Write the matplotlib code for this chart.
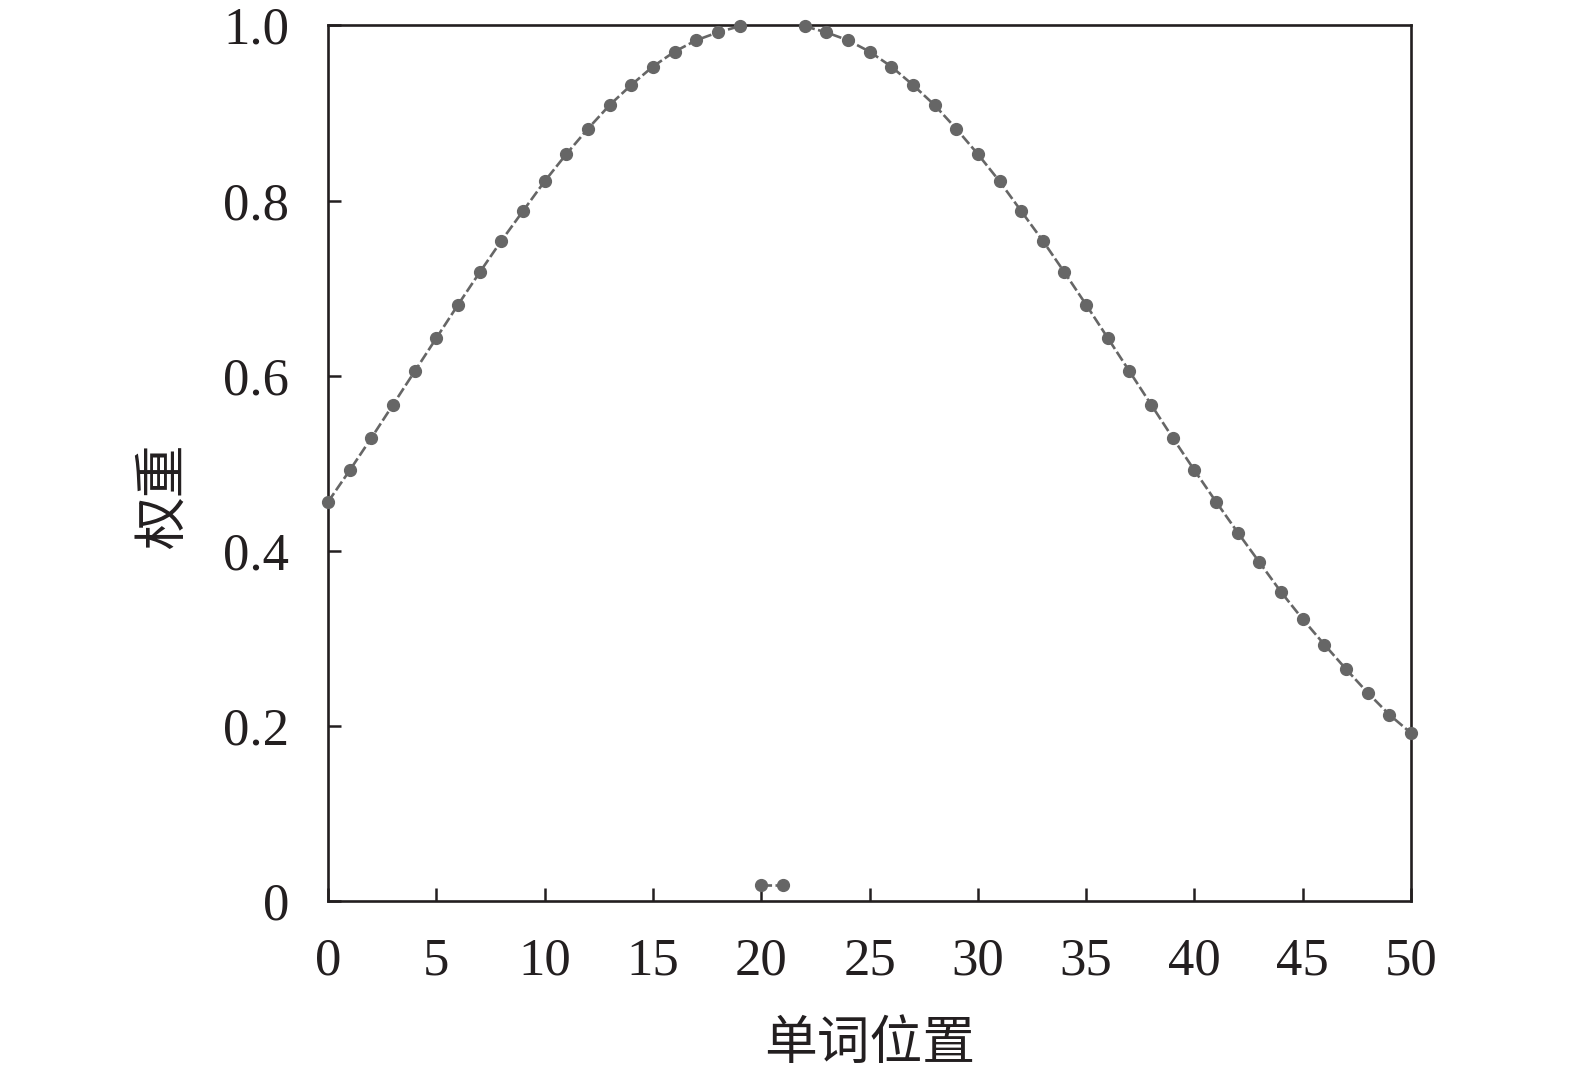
import matplotlib
matplotlib.use('Agg')
import matplotlib.pyplot as plt
import numpy as np

# word positions and weights
positions = list(range(0, 51))
weights = [0.456, 0.492, 0.529, 0.567, 0.605, 0.643, 0.681, 0.718, 0.754, 0.788,
           0.822, 0.853, 0.882, 0.909, 0.932, 0.953, 0.970, 0.983, 0.992, 0.999,
           0.019, 0.019,
           0.999, 0.992, 0.983, 0.970, 0.953, 0.932, 0.909, 0.882, 0.853, 0.822,
           0.788, 0.754, 0.718, 0.681, 0.643, 0.605, 0.567, 0.529, 0.492, 0.456,
           0.421, 0.387, 0.353, 0.322, 0.293, 0.265, 0.238, 0.213, 0.192]
# the curve is drawn in three separate pieces
segments = [(0, 20), (20, 22), (22, 51)]

xticks = [0, 5, 10, 15, 20, 25, 30, 35, 40, 45, 50]
yticks = [0, 0.2, 0.4, 0.6, 0.8, 1.0]
ytick_labels = ['0', '0.2', '0.4', '0.6', '0.8', '1.0']

font_size = 38
cjk = ['Noto Sans CJK SC', 'DejaVu Sans']

plt.rcParams['font.family'] = 'Liberation Serif'

fig = plt.figure(figsize=(15.75, 10.69), dpi=100)
ax = fig.add_axes([0.2083, 0.1569, 0.6876, 0.8194])

x = np.array(positions)
y = np.array(weights)
for a, b in segments:
    ax.plot(x[a:b], y[a:b], color='#666666', linestyle=(0, (4, 1.3)), linewidth=1.9,
            marker='o', markersize=8.5, markerfacecolor='#666666',
            markeredgecolor='#666666', clip_on=False, zorder=3)

ax.set_xlim(0, 50)
ax.set_ylim(0, 1.0)
ax.set_xticks(xticks)
ax.set_yticks(yticks)
ax.set_yticklabels(ytick_labels)

ax.tick_params(axis='both', direction='in', length=9.5, width=1.8,
               labelsize=font_size, color='#231f20', labelcolor='#231f20')
ax.tick_params(axis='x', pad=26)
ax.tick_params(axis='y', pad=28)
for s in ax.spines.values():
    s.set_linewidth(1.9)
    s.set_color('#231f20')

ax.set_xlabel('单词位置', fontsize=font_size, family=cjk, labelpad=22, color='#231f20')
ax.set_ylabel('权重', fontsize=font_size, family=cjk, color='#231f20')
ax.yaxis.set_label_coords(-0.127, 0.462)

fig.savefig('out.png', dpi=100)
